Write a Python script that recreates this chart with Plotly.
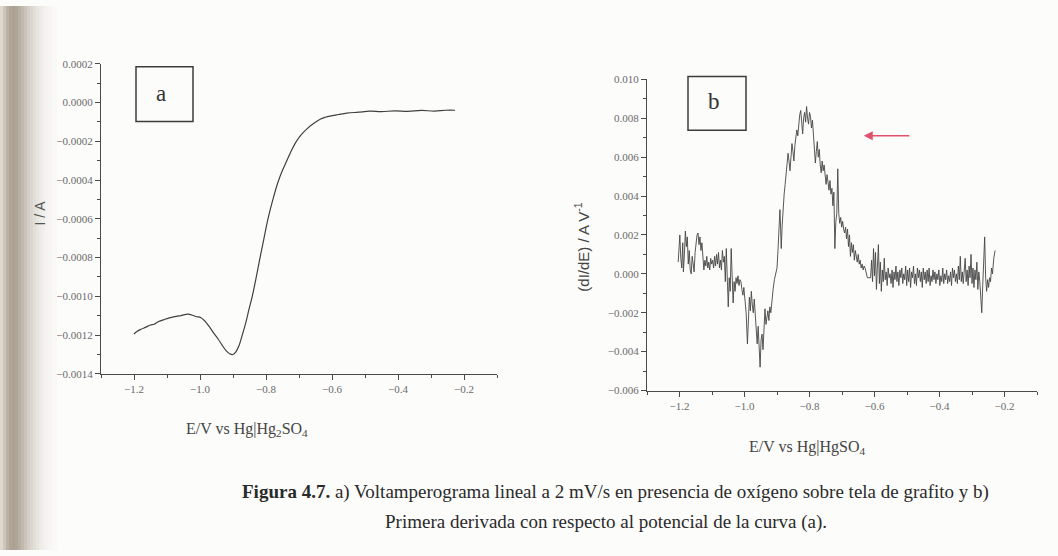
import plotly.graph_objects as go

# ---- (a) linear sweep voltammogram: potential (V) and current (A)
pot_a = [-1.200, -1.190, -1.179, -1.165, -1.150, -1.139, -1.125, -1.109, -1.095,
         -1.080, -1.068, -1.058, -1.047, -1.036, -1.025, -1.012, -0.997, -0.985,
         -0.973, -0.960, -0.945, -0.933, -0.921, -0.910, -0.900, -0.891, -0.882,
         -0.872, -0.861, -0.852, -0.842, -0.830, -0.818, -0.806, -0.794, -0.779,
         -0.764, -0.750, -0.736, -0.724, -0.712, -0.695, -0.676, -0.656, -0.636,
         -0.620, -0.606, -0.580, -0.555, -0.520, -0.485, -0.450, -0.410, -0.370,
         -0.330, -0.290, -0.255, -0.227]
cur_a = [-0.001194, -0.001180, -0.001170, -0.001160, -0.001148, -0.001144, -0.001130,
         -0.001120, -0.001112, -0.001106, -0.001102, -0.001100, -0.001094, -0.001092,
         -0.001096, -0.001104, -0.001110, -0.001128, -0.001154, -0.001186, -0.001220,
         -0.001252, -0.001280, -0.001296, -0.001300, -0.001285, -0.001255, -0.001200,
         -0.001134, -0.001070, -0.001003, -0.000905, -0.000800, -0.000700, -0.000600,
         -0.000500, -0.000413, -0.000350, -0.000297, -0.000252, -0.000212, -0.000170,
         -0.000136, -0.000108, -0.000086, -0.000076, -0.000070, -0.000062, -0.000055,
         -0.000050, -0.000045, -0.000047, -0.000043, -0.000046, -0.000041, -0.000044,
         -0.000040, -0.000040]

# ---- (b) first derivative dI/dE (A/V) of curve (a)
pot_b = [-1.204, -1.201, -1.199, -1.196, -1.193, -1.190, -1.188, -1.185, -1.182, -1.179,
         -1.176, -1.173, -1.170, -1.167, -1.164, -1.161, -1.158, -1.155, -1.152, -1.149,
         -1.146, -1.143, -1.140, -1.137, -1.134, -1.131, -1.128, -1.125, -1.122, -1.119,
         -1.116, -1.113, -1.110, -1.107, -1.104, -1.101, -1.098, -1.095, -1.092, -1.089,
         -1.086, -1.083, -1.080, -1.077, -1.074, -1.071, -1.068, -1.065, -1.062, -1.059,
         -1.056, -1.053, -1.050, -1.047, -1.044, -1.041, -1.038, -1.035, -1.032, -1.029,
         -1.026, -1.023, -1.020, -1.017, -1.014, -1.011, -1.008, -1.005, -1.002, -0.999,
         -0.995, -0.991, -0.988, -0.985, -0.982, -0.979, -0.976, -0.973, -0.970, -0.967,
         -0.964, -0.961, -0.958, -0.955, -0.952, -0.949, -0.946, -0.943, -0.940, -0.937,
         -0.934, -0.931, -0.928, -0.925, -0.922, -0.919, -0.916, -0.912, -0.908, -0.904,
         -0.900, -0.897, -0.894, -0.891, -0.889, -0.887, -0.884, -0.881, -0.878, -0.875,
         -0.872, -0.869, -0.866, -0.863, -0.860, -0.857, -0.854, -0.851, -0.848, -0.845,
         -0.842, -0.839, -0.836, -0.833, -0.830, -0.827, -0.824, -0.821, -0.818, -0.815,
         -0.812, -0.809, -0.806, -0.803, -0.800, -0.797, -0.794, -0.791, -0.788, -0.785,
         -0.782, -0.779, -0.776, -0.773, -0.770, -0.767, -0.764, -0.761, -0.758, -0.755,
         -0.752, -0.749, -0.746, -0.743, -0.740, -0.737, -0.734, -0.731, -0.728, -0.725,
         -0.722, -0.719, -0.716, -0.713, -0.710, -0.707, -0.704, -0.701, -0.698, -0.695,
         -0.692, -0.689, -0.686, -0.683, -0.680, -0.677, -0.674, -0.671, -0.668, -0.665,
         -0.662, -0.659, -0.656, -0.653, -0.650, -0.647, -0.644, -0.641, -0.638, -0.635,
         -0.632, -0.629, -0.622, -0.612, -0.609, -0.606, -0.603, -0.600, -0.597, -0.594,
         -0.591, -0.588, -0.585, -0.582, -0.579, -0.576, -0.573, -0.570, -0.567, -0.564,
         -0.561, -0.558, -0.555, -0.552, -0.549, -0.546, -0.543, -0.540, -0.537, -0.534,
         -0.531, -0.528, -0.525, -0.522, -0.519, -0.516, -0.513, -0.510, -0.507, -0.504,
         -0.501, -0.498, -0.495, -0.492, -0.489, -0.486, -0.483, -0.480, -0.477, -0.474,
         -0.471, -0.468, -0.465, -0.462, -0.459, -0.456, -0.453, -0.450, -0.447, -0.444,
         -0.441, -0.438, -0.435, -0.432, -0.429, -0.426, -0.423, -0.420, -0.417, -0.414,
         -0.411, -0.408, -0.405, -0.402, -0.399, -0.396, -0.393, -0.390, -0.387, -0.384,
         -0.381, -0.378, -0.375, -0.372, -0.369, -0.366, -0.363, -0.360, -0.357, -0.354,
         -0.351, -0.348, -0.345, -0.342, -0.339, -0.336, -0.333, -0.330, -0.327, -0.324,
         -0.321, -0.318, -0.315, -0.312, -0.309, -0.306, -0.303, -0.300, -0.297, -0.294,
         -0.291, -0.288, -0.285, -0.282, -0.279, -0.276, -0.273, -0.270, -0.267, -0.264,
         -0.261, -0.258, -0.255, -0.252, -0.249, -0.246, -0.243, -0.240, -0.237, -0.233,
         -0.229]
dIdE_b = [0.0006, 0.0012, 0.0020, 0.0008, 0.0003, 0.0016, 0.0001, 0.0010, 0.0022, 0.0014,
          0.0019, 0.0005, 0.0012, 0.0002, 0.0000, 0.0009, 0.0004, 0.0001, 0.0011, 0.0018,
          0.0020, 0.0021, 0.0015, 0.0019, 0.0012, 0.0016, 0.0008, 0.0002, 0.0007, 0.0004,
          0.0009, 0.0003, 0.0006, 0.0002, 0.0008, 0.0005, 0.0007, 0.0003, 0.0009, 0.0004,
          0.0010, 0.0005, 0.0011, 0.0003, 0.0007, 0.0002, 0.0012, 0.0006, 0.0009, -0.0004,
          0.0013, -0.0008, -0.0017, -0.0002, -0.0009, 0.0013, -0.0006, -0.0015, -0.0004, -0.0009,
          -0.0002, -0.0005, -0.0001, -0.0006, -0.0003, -0.0004, -0.0008, -0.0011, -0.0007, -0.0013,
          -0.0020, -0.0036, -0.0026, -0.0012, -0.0019, -0.0009, -0.0016, -0.0020, -0.0013, -0.0022,
          -0.0030, -0.0036, -0.0027, -0.0042, -0.0048, -0.0034, -0.0031, -0.0039, -0.0029, -0.0018,
          -0.0026, -0.0022, -0.0019, -0.0024, -0.0017, -0.0020, -0.0014, -0.0008, -0.0003, 0.0000,
          0.0003, 0.0012, 0.0021, 0.0033, 0.0024, 0.0013, 0.0025, 0.0035, 0.0041, 0.0046,
          0.0052, 0.0055, 0.0062, 0.0058, 0.0053, 0.0060, 0.0067, 0.0063, 0.0058, 0.0066,
          0.0070, 0.0074, 0.0071, 0.0078, 0.0082, 0.0084, 0.0077, 0.0072, 0.0080, 0.0083,
          0.0078, 0.0086, 0.0080, 0.0077, 0.0083, 0.0081, 0.0075, 0.0079, 0.0072, 0.0066,
          0.0057, 0.0063, 0.0068, 0.0060, 0.0064, 0.0056, 0.0052, 0.0058, 0.0053, 0.0056,
          0.0049, 0.0046, 0.0051, 0.0047, 0.0043, 0.0048, 0.0041, 0.0044, 0.0035, 0.0042,
          0.0013, 0.0027, 0.0031, 0.0054, 0.0031, 0.0026, 0.0029, 0.0024, 0.0027, 0.0023,
          0.0021, 0.0024, 0.0018, 0.0023, 0.0014, 0.0020, 0.0009, 0.0016, 0.0011, 0.0015,
          0.0007, 0.0012, 0.0009, 0.0006, 0.0010, 0.0005, 0.0007, 0.0003, 0.0005, 0.0002,
          0.0004, 0.0003, -0.0002, -0.0002, 0.0007, -0.0004, 0.0013, -0.0001, 0.0011, -0.0008,
          0.0004, 0.0015, -0.0005, 0.0006, -0.0009, 0.0002, -0.0004, 0.0008, -0.0003, 0.0001,
          -0.0006, 0.0003, -0.0002, 0.0000, -0.0005, 0.0002, -0.0007, 0.0001, -0.0003, 0.0004,
          -0.0004, 0.0001, -0.0006, 0.0002, -0.0002, 0.0003, -0.0005, 0.0000, -0.0003, 0.0004,
          -0.0006, 0.0002, -0.0004, 0.0003, -0.0007, 0.0001, -0.0002, 0.0004, -0.0005, 0.0000,
          -0.0006, 0.0003, -0.0002, 0.0002, -0.0004, 0.0001, -0.0007, 0.0003, -0.0003, 0.0001,
          -0.0005, 0.0002, -0.0004, 0.0003, -0.0006, -0.0001, -0.0004, 0.0002, -0.0003, 0.0001,
          -0.0005, 0.0000, -0.0003, 0.0002, -0.0006, -0.0001, -0.0004, 0.0003, -0.0005, 0.0000,
          -0.0003, 0.0002, -0.0005, -0.0001, -0.0004, 0.0001, -0.0006, 0.0003, -0.0002, 0.0002,
          -0.0004, 0.0000, -0.0005, 0.0004, -0.0003, 0.0009, -0.0004, 0.0001, -0.0005, 0.0003,
          0.0008, -0.0004, 0.0002, -0.0006, 0.0004, -0.0002, 0.0010, -0.0005, 0.0003, -0.0007,
          0.0002, -0.0003, 0.0006, -0.0008, 0.0001, -0.0004, -0.0010, -0.0020, -0.0006, 0.0004,
          0.0019, -0.0002, -0.0009, -0.0003, -0.0007, -0.0002, -0.0004, 0.0003, 0.0000, 0.0008,
          0.0012]

# tick values / labels
x_ticks = [-1.2, -1.0, -0.8, -0.6, -0.4, -0.2]
y_ticks_a = [0.0002, 0.0000, -0.0002, -0.0004, -0.0006, -0.0008, -0.0010, -0.0012, -0.0014]
y_ticks_b = [0.010, 0.008, 0.006, 0.004, 0.002, 0.000, -0.002, -0.004, -0.006]

W, H = 1058, 556
SERIF = "Liberation Serif"
AXIS_COL = "#4a4a4a"
TICK_FONT = dict(family=SERIF, size=11, color="#6a6a6a")


def px_x(p):
    return p / W


def px_y(p):
    return 1 - p / H


fig = go.Figure()
fig.add_trace(go.Scatter(x=pot_a, y=cur_a, mode="lines", xaxis="x", yaxis="y",
                         line=dict(color="#404040", width=1.2, shape="spline"),
                         showlegend=False))
fig.add_trace(go.Scatter(x=pot_b, y=dIdE_b, mode="lines", xaxis="x2", yaxis="y2",
                         line=dict(color="#454545", width=0.9),
                         showlegend=False))


def xaxis_style(domain, anchor):
    return dict(domain=domain, anchor=anchor, range=[-1.3, -0.1],
                tickvals=x_ticks, tickformat=".1f", ticks="outside", ticklen=5,
                tickwidth=1, tickcolor=AXIS_COL, showline=True, linecolor=AXIS_COL,
                linewidth=1.3, showgrid=False, zeroline=False, tickfont=TICK_FONT,
                minor=dict(dtick=0.1, tick0=0, ticks="outside", ticklen=3,
                           tickcolor=AXIS_COL, showgrid=False),
                fixedrange=True)


def yaxis_style(domain, anchor, rng, vals, fmt, minor_step):
    return dict(domain=domain, anchor=anchor, range=rng, tickvals=vals,
                tickformat=fmt, ticks="outside", ticklen=5, tickwidth=1,
                tickcolor=AXIS_COL, showline=True, linecolor=AXIS_COL, linewidth=1.3,
                showgrid=False, zeroline=False, tickfont=TICK_FONT,
                minor=dict(dtick=minor_step, tick0=0, ticks="outside", ticklen=3,
                           tickcolor=AXIS_COL, showgrid=False),
                fixedrange=True)


fig.update_layout(
    width=W, height=H,
    margin=dict(l=0, r=0, t=0, b=0),
    paper_bgcolor="#fcfcfb", plot_bgcolor="rgba(0,0,0,0)",
    xaxis=xaxis_style([px_x(101), px_x(497)], "y"),
    yaxis=yaxis_style([px_y(376), px_y(59)], "x", [-0.0014, 0.0002], y_ticks_a, ".4f", 0.0001),
    xaxis2=xaxis_style([px_x(647), px_x(1037)], "y2"),
    yaxis2=yaxis_style([px_y(393), px_y(75)], "x2", [-0.006, 0.010], y_ticks_b, ".3f", 0.001),
)

# page-binding shadow along the left edge (narrow strips, fading to the page colour)
shadow = [(0, 3, "rgb(222,216,207)"), (3, 6, "rgb(206,198,186)"),
          (6, 9, "rgb(188,178,164)"), (9, 12, "rgb(176,165,150)"),
          (12, 15, "rgb(172,161,146)"), (15, 18, "rgb(176,166,152)"),
          (18, 21, "rgb(184,175,162)"), (21, 24, "rgb(193,185,174)"),
          (24, 27, "rgb(202,196,186)"), (27, 30, "rgb(211,206,198)"),
          (30, 33, "rgb(219,215,208)"), (33, 36, "rgb(226,223,217)"),
          (36, 39, "rgb(232,229,224)"), (39, 42, "rgb(237,235,231)"),
          (42, 45, "rgb(241,239,236)"), (45, 48, "rgb(244,243,240)"),
          (48, 52, "rgb(247,246,244)"), (52, 57, "rgb(250,249,247)")]
shapes = []
for x0, x1, col in shadow:
    shapes.append(dict(type="rect", xref="paper", yref="paper", x0=px_x(x0), x1=px_x(x1),
                       y0=0, y1=1, fillcolor=col, line=dict(width=0), layer="below"))

# panel label boxes
for (x0, y0, x1, y1) in [(136, 62, 193, 118), (688, 72, 746, 127)]:
    shapes.append(dict(type="rect", xref="paper", yref="paper",
                       x0=px_x(x0), x1=px_x(x1), y0=px_y(y1), y1=px_y(y0),
                       line=dict(color="#3c3c3c", width=1.5), fillcolor="rgba(0,0,0,0)"))
fig.update_layout(shapes=shapes)


def label(text, x, y, size, family=SERIF, color="#333", angle=0):
    return dict(text=text, x=px_x(x), y=px_y(y), xref="paper", yref="paper",
                showarrow=False, xanchor="center", yanchor="middle", textangle=angle,
                font=dict(family=family, size=size, color=color))


annotations = [
    label("a", 161, 89, 23),
    label("b", 714, 98, 23),
    label("I / A", 40, 212, 14, family="Liberation Sans", color="#555", angle=-90),
    label("(dI/dE) / A V<sup>-1</sup>", 582, 246, 15, family="Liberation Sans",
          color="#444", angle=-90),
    label("E/V vs Hg|Hg<sub>2</sub>SO<sub>4</sub>", 247, 433, 16, color="#444"),
    label("E/V vs Hg|HgSO<sub>4</sub>", 807, 451, 16, color="#444"),
    # marker pointing at the derivative maximum
    dict(text="", x=-0.633, y=0.0071, xref="x2", yref="y2", ax=47, ay=0,
         axref="pixel", ayref="pixel", showarrow=True, arrowhead=2, arrowsize=1.2,
         arrowwidth=1.5, arrowcolor="#e0506a"),
    # caption
    label("<b>Figura 4.7.</b> a) Voltamperograma lineal a 2 mV/s en presencia de "
          "oxígeno sobre tela de grafito y b)", 615, 497, 19, color="#2a2a2a"),
    label("Primera derivada con respecto al potencial de la curva (a).",
          606, 527, 19, color="#2a2a2a"),
]
fig.update_layout(annotations=annotations)

fig.write_html("out.html")
